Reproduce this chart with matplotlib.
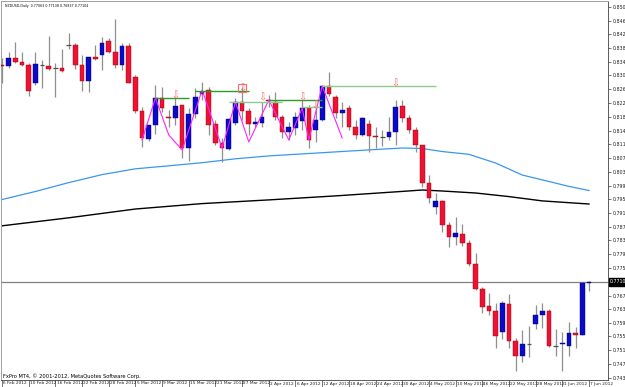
import matplotlib
matplotlib.use('Agg')
import matplotlib.pyplot as plt
import matplotlib.transforms as mtrans
import numpy as np

# ---------------- data ----------------
date_labels = ["6 Feb 2012", "10 Feb 2012", "16 Feb 2012", "22 Feb 2012", "28 Feb 2012",
               "5 Mar 2012", "9 Mar 2012", "15 Mar 2012", "21 Mar 2012", "27 Mar 2012",
               "2 Apr 2012", "6 Apr 2012", "12 Apr 2012", "18 Apr 2012", "24 Apr 2012",
               "30 Apr 2012", "4 May 2012", "10 May 2012", "16 May 2012", "22 May 2012",
               "28 May 2012", "1 Jun 2012", "7 Jun 2012"]
date_idx = list(range(0, 89, 4))

opens = [0.83392, 0.83363, 0.83595, 0.83479, 0.83392, 0.82871, 0.83392, 0.83363, 0.83305, 0.83305,
         0.83972, 0.83972, 0.83392, 0.82929, 0.83624, 0.83682, 0.84088, 0.83769, 0.83392, 0.83943,
         0.83045, 0.82059, 0.81248, 0.81653, 0.82436, 0.81885, 0.81856, 0.82233, 0.80987, 0.81972,
         0.82552, 0.82668, 0.81682, 0.81132, 0.80958, 0.81711, 0.82320, 0.82059, 0.81682, 0.81711,
         0.82378, 0.82320, 0.81885, 0.81451, 0.81567, 0.81769, 0.82146, 0.81509, 0.81798, 0.82784,
         0.82465, 0.82001, 0.82146, 0.81596, 0.81364, 0.81682, 0.81335, 0.81306, 0.81306, 0.81451,
         0.82204, 0.81856, 0.81509, 0.81074, 0.79973, 0.79277, 0.79451, 0.78756, 0.78408, 0.78495,
         0.78234, 0.77625, 0.76901, 0.76408, 0.76263, 0.75655, 0.76466, 0.75394, 0.74959, 0.75307,
         0.75887, 0.76147, 0.76263, 0.75249, 0.75307, 0.75249, 0.75626, 0.75568, 0.77063]
highs = [0.83595, 0.83769, 0.84059, 0.83769, 0.83450, 0.83769, 0.83537, 0.84233, 0.83450, 0.83856,
         0.84320, 0.84030, 0.83682, 0.83624, 0.83972, 0.84204, 0.84175, 0.84725, 0.84030, 0.84030,
         0.83103, 0.82175, 0.81653, 0.82813, 0.82755, 0.82088, 0.82465, 0.82233, 0.82146, 0.82726,
         0.82900, 0.82755, 0.81798, 0.81277, 0.81856, 0.82436, 0.82755, 0.82146, 0.81885, 0.82320,
         0.82523, 0.82610, 0.81943, 0.81740, 0.82030, 0.82378, 0.82233, 0.82175, 0.82784, 0.83189,
         0.82523, 0.82320, 0.82233, 0.81798, 0.81885, 0.81798, 0.81596, 0.81509, 0.81885, 0.82378,
         0.82378, 0.81943, 0.81596, 0.81074, 0.80205, 0.79683, 0.79480, 0.78842, 0.78987, 0.78785,
         0.78321, 0.77944, 0.76959, 0.76785, 0.76495, 0.76553, 0.76756, 0.75481, 0.75713, 0.75829,
         0.76437, 0.76495, 0.76321, 0.75742, 0.75655, 0.75944, 0.75800, 0.77075, 0.77138]
lows = [0.82871, 0.83305, 0.83450, 0.83363, 0.82494, 0.82813, 0.82726, 0.83247, 0.82465, 0.83189,
        0.83856, 0.83276, 0.82639, 0.82610, 0.83537, 0.83247, 0.83740, 0.83305, 0.83247, 0.82871,
        0.82001, 0.81016, 0.81190, 0.81393, 0.82030, 0.81596, 0.81653, 0.80697, 0.80610, 0.81856,
        0.82378, 0.81364, 0.81074, 0.80581, 0.80929, 0.81653, 0.81798, 0.81364, 0.81596, 0.81596,
        0.82175, 0.81798, 0.81277, 0.81219, 0.81364, 0.81509, 0.80987, 0.81161, 0.81769, 0.82494,
        0.81856, 0.81596, 0.81509, 0.81248, 0.81335, 0.80871, 0.80987, 0.81045, 0.81219, 0.81074,
        0.81740, 0.81422, 0.80871, 0.79857, 0.79393, 0.79074, 0.78553, 0.78118, 0.78176, 0.78147,
        0.77567, 0.76872, 0.76205, 0.76147, 0.75191, 0.75452, 0.75191, 0.74524, 0.74785, 0.74930,
        0.75742, 0.75771, 0.75220, 0.74959, 0.74524, 0.74959, 0.75191, 0.75568, 0.76837]
closes = [0.83363, 0.83595, 0.83479, 0.83392, 0.82639, 0.83421, 0.83392, 0.83276, 0.83305, 0.83218,
          0.83972, 0.83392, 0.82929, 0.83624, 0.83566, 0.84030, 0.83769, 0.83392, 0.83943, 0.82871,
          0.82059, 0.81277, 0.81653, 0.82436, 0.82146, 0.81856, 0.82204, 0.80987, 0.81972, 0.82465,
          0.82610, 0.81653, 0.81132, 0.80987, 0.81827, 0.82320, 0.82059, 0.81682, 0.81740, 0.81885,
          0.82349, 0.81885, 0.81451, 0.81596, 0.81885, 0.82146, 0.81219, 0.81798, 0.82784, 0.82552,
          0.82001, 0.82088, 0.81596, 0.81364, 0.81856, 0.81335, 0.81306, 0.81306, 0.81451, 0.82175,
          0.81856, 0.81509, 0.81074, 0.79973, 0.79538, 0.79451, 0.78756, 0.78408, 0.78524, 0.78234,
          0.77625, 0.76901, 0.76379, 0.76263, 0.75539, 0.76495, 0.75394, 0.74959, 0.75307, 0.75307,
          0.76147, 0.76263, 0.75249, 0.75249, 0.75336, 0.75626, 0.75568, 0.77075, 0.77104]

# moving averages (read at selected bars)
ma_fast_idx = [0, 5, 10, 15, 20, 25, 30, 35, 40, 45, 50, 55, 60, 63, 66, 70, 74, 78, 82, 85, 88]
ma_fast = [0.79494, 0.79726, 0.79984, 0.80216, 0.80384, 0.80471, 0.80561, 0.80674, 0.80758, 0.80816,
           0.80874, 0.80932, 0.80987, 0.80972, 0.80885, 0.80804, 0.80552, 0.80204, 0.80016, 0.79874,
           0.79755]
ma_slow_idx = [0, 10, 20, 30, 40, 50, 60, 63, 66, 71, 76, 81, 88]
ma_slow = [0.78732, 0.78964, 0.79219, 0.79376, 0.79483, 0.79599, 0.79729, 0.79770, 0.79741, 0.79683,
           0.79579, 0.79454, 0.79364]

# zigzag
zz_idx = [21, 23, 25, 27, 30, 33, 35, 37, 40, 43, 45, 46, 48, 51]
zz_val = [0.81219, 0.82436, 0.81364, 0.80929, 0.82668, 0.80987, 0.82320, 0.81161, 0.82378, 0.81219,
          0.82146, 0.81219, 0.82784, 0.81277]

# resistance lines
res_start = [23, 29, 34, 40, 45, 48]
res_end = [28, 37, 42, 48, 48, 65]
res_level = [0.82436, 0.82639, 0.82320, 0.82378, 0.82175, 0.82784]
res_dark = [True, True, False, True, False, False]

# arrow markers
arrow_idx = [26, 36, 39, 45, 47, 59]
arrow_val = [0.82523, 0.82726, 0.82465, 0.82465, 0.82233, 0.82871]
box_idx = 36
box_val = 0.82726

ytick_vals = [0.85080, 0.84680, 0.84280, 0.83890, 0.83490, 0.83090, 0.82690, 0.82290, 0.81890,
              0.81490, 0.81100, 0.80700, 0.80300, 0.79900, 0.79510, 0.79110, 0.78710, 0.78310,
              0.77910, 0.77510, 0.76710, 0.76330, 0.75930, 0.75530, 0.75130, 0.74730, 0.74330]
ytick_labels = ["%.5f" % v for v in ytick_vals]
last_price = 0.77104
header = "NZDUSD,Daily  0.77063 0.77138 0.76837 0.77104"
footer = "FxPro MT4, \u00a9 2001-2012, MetaQuotes Software Corp."

# ---------------- plot ----------------
small_font = ['Liberation Sans Narrow', 'DejaVu Sans']
W, H = 625, 387
fig = plt.figure(figsize=(W / 100, H / 100), dpi=100)
fig.patch.set_facecolor('white')
ax = fig.add_axes([1 / W, 7 / H, 607 / W, 379 / H])
ax.set_facecolor('white')

n = len(opens)
idx = np.arange(n)
o = np.array(opens); c = np.array(closes); h = np.array(highs); l = np.array(lows)

RED = '#EE1133'
BLUE = '#0A0AC8'

ax.vlines(idx, l, h, color='#8f8f8f', lw=0.9, zorder=2)
up = c > o
dn = c < o
dj = c == o
minh = 0.00025
ax.bar(idx[up], np.maximum(c[up] - o[up], minh), bottom=o[up], width=0.7,
       color=BLUE, edgecolor='#000080', lw=0.3, zorder=3)
ax.bar(idx[dn], np.maximum(o[dn] - c[dn], minh), bottom=c[dn], width=0.7,
       color=RED, edgecolor='#990000', lw=0.3, zorder=3)
ax.hlines(o[dj], idx[dj] - 0.35, idx[dj] + 0.35, color='#505050', lw=0.9, zorder=3)

ax.plot(ma_fast_idx, ma_fast, color='#3A96F0', lw=0.9, zorder=1)
ax.plot(ma_slow_idx, ma_slow, color='black', lw=1.0, zorder=1)

ax.plot(zz_idx, zz_val, color='#FF22FF', lw=0.8, zorder=4)

for s, e, lv, dk in zip(res_start, res_end, res_level, res_dark):
    ax.hlines(lv, s, e, color='#2E9A2E' if dk else '#8CCB8C', lw=1.0, zorder=4)

for xi, yv in zip(arrow_idx, arrow_val):
    ax.text(xi, yv, '\u21e9', color='#FF6A6A', fontsize=7, ha='center', va='center',
            family=['DejaVu Sans'], zorder=5)
ax.plot([box_idx], [box_val], marker='s', ms=6, mfc='none', mec='#FF6A6A', mew=0.8, zorder=5)

ax.axhline(last_price, color='#808080', lw=0.9, zorder=1)

ax.set_xlim(-0.15, 90.85)
ax.set_ylim(0.74264, 0.85247)

ax.yaxis.tick_right()
ax.set_yticks(ytick_vals)
ax.set_yticklabels(ytick_labels, family=small_font, fontsize=3.4, color='#202020')
ax.tick_params(axis='y', length=2.5, width=0.5, pad=1.2, color='#404040')

# date ticks: marks on the axis, labels placed beside each mark
ax.set_xticks(date_idx)
ax.set_xticklabels([''] * len(date_idx))
ax.tick_params(axis='x', length=5, width=0.5, pad=0, color='#404040')
xtrans = mtrans.blended_transform_factory(ax.transData, ax.transAxes)
xoff = mtrans.ScaledTranslation(1.2 / 100, 0, fig.dpi_scale_trans)
for xi, lab in zip(date_idx, date_labels):
    ax.text(xi, -1.5 / 379, lab, transform=xtrans + xoff, ha='left', va='top',
            fontsize=3.1, family=small_font, color='#202020', clip_on=False)

for sp in ['top', 'left']:
    ax.spines[sp].set_color('#a0a0a0')
    ax.spines[sp].set_linewidth(0.7)
for sp in ['right', 'bottom']:
    ax.spines[sp].set_color('#404040')
    ax.spines[sp].set_linewidth(0.6)

trans = mtrans.blended_transform_factory(ax.transAxes, ax.transData)
ax.text(1 + 2 / 607, last_price, "%.5f" % last_price, transform=trans, ha='left', va='center',
        fontsize=3.4, family=small_font, color='white',
        bbox=dict(boxstyle='square,pad=0.3', fc='black', ec='black'), clip_on=False, zorder=6)

ax.text(4 / 607, 1 - 3 / 379, header, transform=ax.transAxes, ha='left', va='top',
        fontsize=2.3, family=small_font, color='black')
ax.text(2 / 607, 4 / 379, footer, transform=ax.transAxes, ha='left', va='center',
        fontsize=3.7, family=small_font, color='black')

fig.savefig('out.png', dpi=100, facecolor='white')
